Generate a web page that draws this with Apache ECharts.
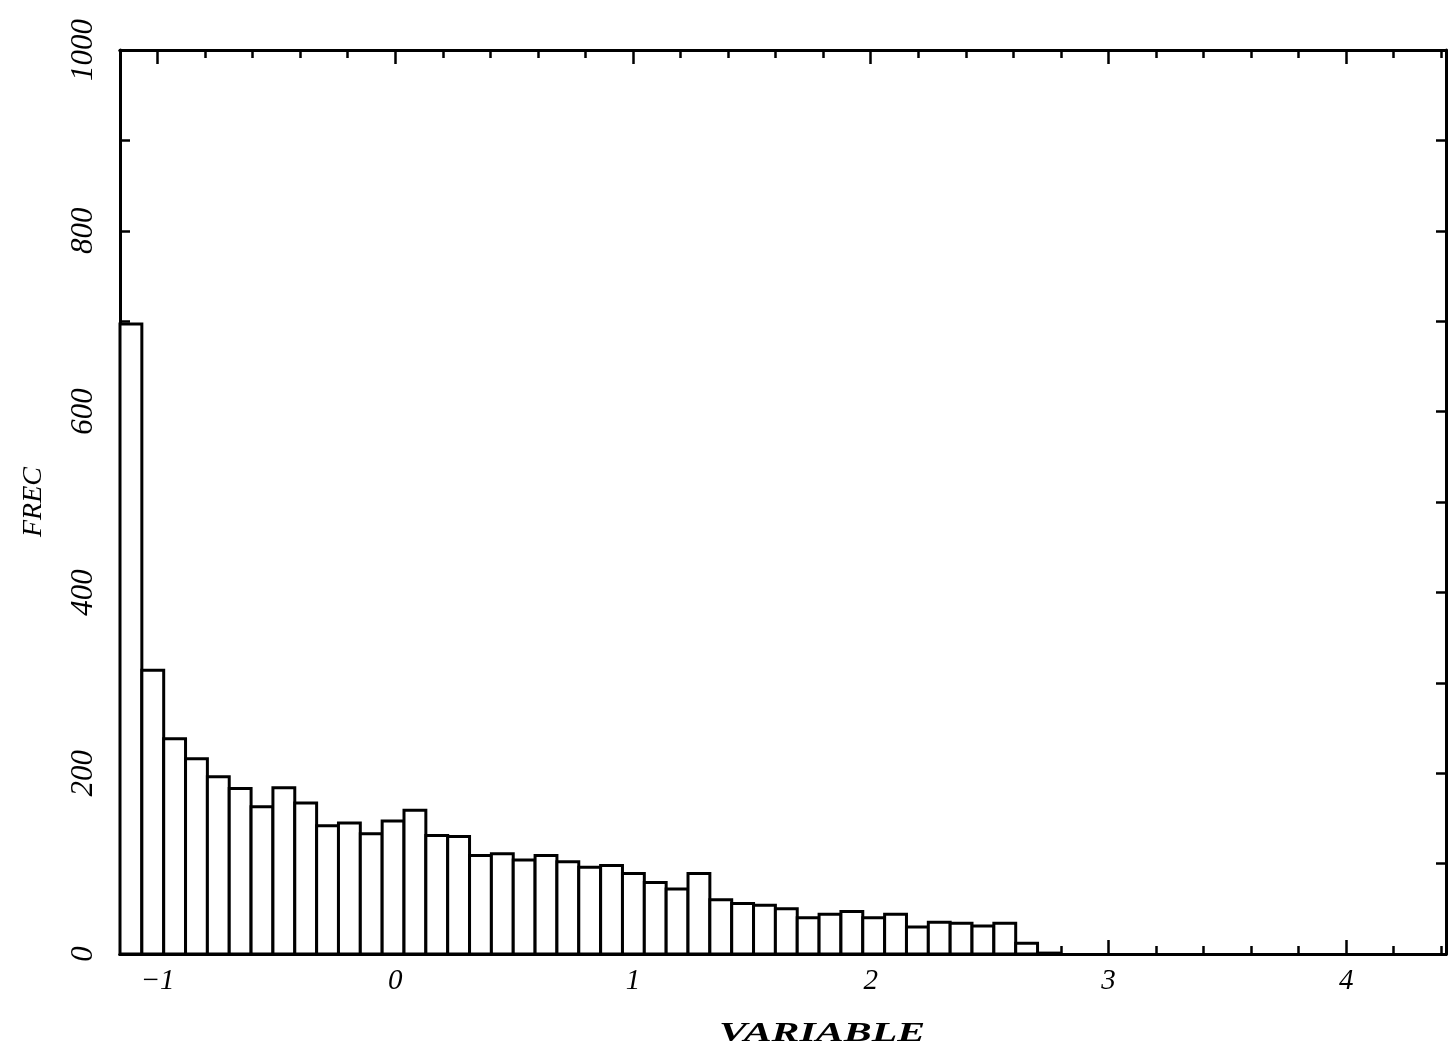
<!DOCTYPE html>
<html>
<head>
<meta charset="utf-8">
<script src="https://cdn.jsdelivr.net/npm/echarts@6/dist/echarts.min.js"></script>
<style>
  html, body { margin: 0; padding: 0; background: #fff; }
  #chart { width: 1449px; height: 1049px; }
</style>
</head>
<body>
<div id="chart"></div>
<script>
// histogram bins: start of first bin and common width (x units)
const binStart = -1.158;
const binWidth = 0.0919;
const counts = [
  697, 314, 238, 216, 196, 183, 163, 184, 167, 142,
  145, 133, 147, 159, 131, 130, 109, 111, 104, 109,
  102, 96, 98, 89, 79, 72, 89, 60, 56, 54,
  50, 40, 44, 47, 40, 44, 30, 35, 34, 31,
  34, 12, 1
];

const xMin = -1.158;
const xMax = 4.42;
const xLabels = [-1, 0, 1, 2, 3, 4];
const xMinorTicks = [
  -1.0, -0.8, -0.6, -0.4, -0.2, 0, 0.2, 0.4, 0.6, 0.8,
  1.0, 1.2, 1.4, 1.6, 1.8, 2.0, 2.2, 2.4, 2.6, 2.8,
  3.0, 3.2, 3.4, 3.6, 3.8, 4.0, 4.2, 4.4
];
const yLabels = [0, 200, 400, 600, 800, 1000];

const binData = counts.map((c, i) => [
  binStart + i * binWidth,
  binStart + (i + 1) * binWidth,
  c
]);

const font = "'Liberation Serif', 'DejaVu Serif', serif";
const black = "#000";

function xAxisDef(position, ticks, tickLen, withLabels) {
  return {
    type: "value",
    position: position,
    min: xMin,
    max: xMax,
    axisLine: { show: true, onZero: false, lineStyle: { color: black, width: 3 } },
    axisTick: {
      show: true,
      inside: true,
      length: tickLen,
      customValues: ticks,
      lineStyle: { color: black, width: 2.5 }
    },
    axisLabel: withLabels
      ? {
          show: true,
          customValues: xLabels,
          margin: 13,
          color: black,
          fontFamily: font,
          fontStyle: "italic",
          fontSize: 29,
          formatter: v => String(v).replace("-", "\u2212")
        }
      : { show: false },
    splitLine: { show: false },
    minorTick: { show: false }
  };
}

function yAxisDef(position, withLabels) {
  return {
    type: "value",
    position: position,
    min: 0,
    max: 1000,
    interval: 100,
    axisLine: { show: true, onZero: false, lineStyle: { color: black, width: 3 } },
    axisTick: { show: true, inside: true, length: 10, lineStyle: { color: black, width: 2.5 } },
    axisLabel: withLabels
      ? {
          show: true,
          customValues: yLabels,
          rotate: 90,
          margin: 21,
          color: black,
          fontFamily: font,
          fontStyle: "italic",
          fontSize: 31,
          formatter: v => String(v)
        }
      : { show: false },
    splitLine: { show: false },
    name: withLabels ? "FREC" : "",
    nameLocation: "middle",
    nameGap: 72,
    nameTextStyle: {
      color: black,
      fontFamily: font,
      fontStyle: "italic",
      fontSize: 28
    }
  };
}

const chart = echarts.init(document.getElementById("chart"), null, { renderer: "canvas" });

const option = {
  backgroundColor: "#ffffff",
  animation: false,
  grid: {
    left: 120,
    right: 3,
    top: 50,
    bottom: 95,
    outerBoundsMode: "none"
  },
  graphic: [
    {
      type: "text",
      x: 822,
      y: 1034,
      scaleX: 1.55,
      style: {
        text: "VARIABLE",
        fill: black,
        font: "italic bold 27px " + font,
        align: "center",
        verticalAlign: "middle"
      }
    }
  ],
  xAxis: [
    xAxisDef("bottom", xLabels, 14, true),
    xAxisDef("bottom", xMinorTicks, 8, false),
    xAxisDef("top", xLabels, 14, false),
    xAxisDef("top", xMinorTicks, 8, false)
  ],
  yAxis: [yAxisDef("left", true), yAxisDef("right", false)],
  series: [
    {
      type: "custom",
      xAxisIndex: 0,
      yAxisIndex: 0,
      data: binData,
      encode: { x: [0, 1], y: 2 },
      renderItem: function (params, api) {
        const topLeft = api.coord([api.value(0), api.value(2)]);
        const bottomRight = api.coord([api.value(1), 0]);
        return {
          type: "rect",
          shape: {
            x: topLeft[0],
            y: topLeft[1],
            width: bottomRight[0] - topLeft[0],
            height: bottomRight[1] - topLeft[1]
          },
          style: { fill: "#ffffff", stroke: black, lineWidth: 3 }
        };
      }
    }
  ]
};

chart.setOption(option);
</script>
</body>
</html>
